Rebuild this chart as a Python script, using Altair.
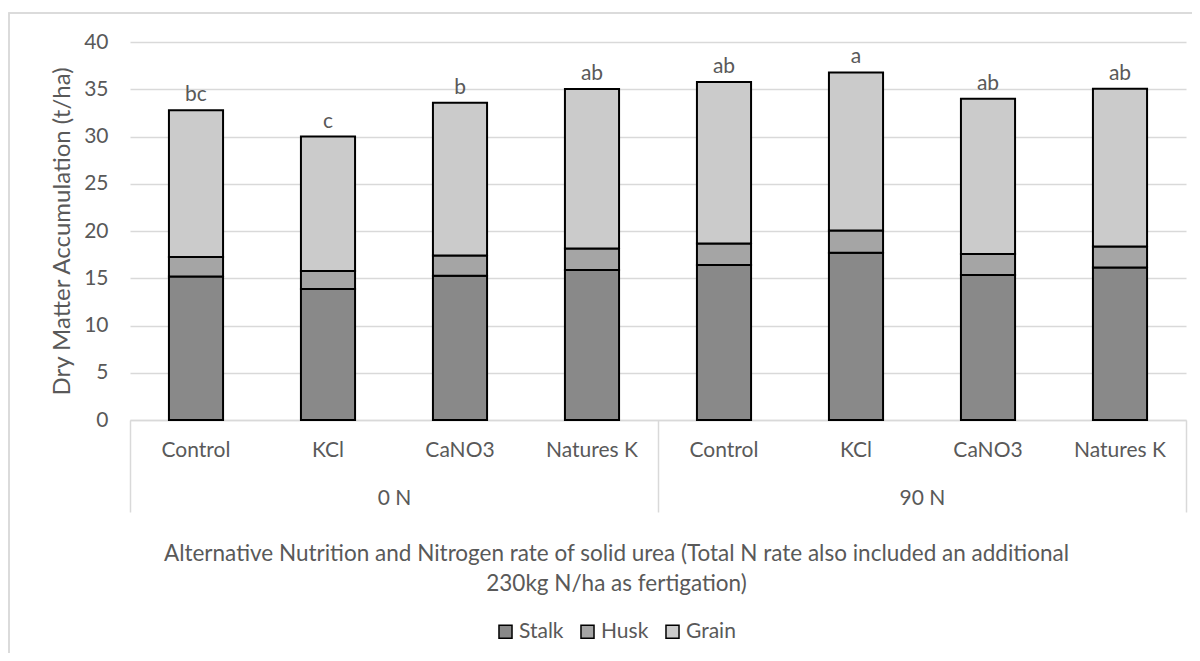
import altair as alt
import pandas as pd

groups = ["0 N", "0 N", "0 N", "0 N", "90 N", "90 N", "90 N", "90 N"]
treatments = ["Control", "KCl", "CaNO3", "Natures K", "Control", "KCl", "CaNO3", "Natures K"]
stalk = [15.19, 13.85, 15.27, 15.87, 16.40, 17.70, 15.34, 16.15]
husk = [2.05, 1.91, 2.15, 2.29, 2.29, 2.34, 2.22, 2.22]
grain = [15.55, 14.24, 16.15, 16.86, 17.07, 16.74, 16.43, 16.68]
letters = ["bc", "c", "b", "ab", "ab", "a", "ab", "ab"]
parts = ["Stalk", "Husk", "Grain"]
part_colors = ["#898989", "#a5a5a5", "#cbcbcb"]

TXT = "#595959"
GRID = "#d9d9d9"

keys = [f"{g}|{t}" for g, t in zip(groups, treatments)]
rows = []
for i, k in enumerate(keys):
    for j, (p, vals) in enumerate(zip(parts, [stalk, husk, grain])):
        rows.append({"key": k, "group": groups[i], "part": p, "value": vals[i], "idx": j})
df = pd.DataFrame(rows)

tot = pd.DataFrame({
    "key": keys,
    "total": [s + h + g for s, h, g in zip(stalk, husk, grain)],
    "letter": letters,
})
grp = pd.DataFrame({"group": ["0 N", "90 N"]})

x_scale = alt.Scale(domain=keys, paddingInner=0.59, paddingOuter=0.295)

x_enc = alt.X(
    "key:N", sort=keys, scale=x_scale,
    axis=alt.Axis(
        orient="bottom", labelExpr="split(datum.label, '|')[1]", labelAngle=0,
        ticks=False, domainColor=GRID, domainWidth=1.5,
        labelPadding=30, labelBaseline="middle", labelFontSize=21, labelColor=TXT,
        title=["Alternative Nutrition and Nitrogen rate of solid urea (Total N rate also included an additional",
               "230kg N/ha as fertigation)"],
        titleX=486, titleY=122, titleBaseline="top", titleAlign="center", titleAngle=0,
        titleFontSize=22.5, titleFontWeight="normal", titleColor=TXT, titleLineHeight=30,
    ),
)

y_enc = alt.Y(
    "value:Q", stack="zero",
    scale=alt.Scale(domain=[0, 40]),
    axis=alt.Axis(
        values=[0, 5, 10, 15, 20, 25, 30, 35, 40], grid=True, gridColor=GRID, gridWidth=1.5,
        ticks=False, domain=False, labelPadding=22, labelFontSize=21, labelColor=TXT,
        title="Dry Matter Accumulation (t/ha)", titleFontSize=24, titleFontWeight="normal",
        titleColor=TXT, titleX=-68, titleY=189, titleAlign="center", titleBaseline="middle",
        titleAngle=-90,
    ),
)

bars = alt.Chart(df).mark_bar(stroke="black", strokeWidth=2).encode(
    x=x_enc,
    y=y_enc,
    color=alt.Color(
        "part:N", scale=alt.Scale(domain=parts, range=part_colors),
        legend=alt.Legend(
            title=None, orient="none", legendX=365, legendY=579, direction="horizontal",
            symbolType="square", symbolSize=170, symbolStrokeColor="black", symbolStrokeWidth=1.5,
            labelFontSize=21, labelColor=TXT, columnPadding=13, labelOffset=3,
        ),
    ),
    order=alt.Order("idx:Q", sort="ascending"),
)

text = alt.Chart(tot).mark_text(baseline="alphabetic", dy=-9, fontSize=21, color=TXT).encode(
    x=alt.X("key:N", sort=keys, scale=x_scale),
    y=alt.Y("total:Q"),
    text="letter:N",
)

main = alt.layer(bars, text)

group_layer = alt.Chart(grp).mark_bar(opacity=0).encode(
    x=alt.X(
        "group:N", sort=["0 N", "90 N"],
        scale=alt.Scale(paddingInner=0, paddingOuter=0),
        axis=alt.Axis(
            orient="bottom", title=None, tickBand="extent", tickSize=92, tickColor=GRID,
            tickWidth=1.5, domain=False, labelPadding=-14, labelBaseline="middle",
            labelFontSize=21, labelColor=TXT, labelAngle=0,
        ),
    ),
    y=alt.value(0),
    y2=alt.value(0),
)

border = alt.Chart(grp).mark_rect(fillOpacity=0, stroke=GRID, strokeWidth=1.5).encode(
    x=alt.value(-121), x2=alt.value(1300), y=alt.value(-29), y2=alt.value(900)
)

chart = alt.layer(main, group_layer, border).resolve_scale(x="independent").properties(
    width=1056, height=378,
    autosize=alt.AutoSizeParams(type="none"),
    padding={"left": 122, "top": 34, "right": 6, "bottom": 233},
).configure(font="Lato").configure_view(stroke=None).configure_axisX(grid=False)

chart.save("out.html", embed_options={"renderer": "svg", "actions": False})
